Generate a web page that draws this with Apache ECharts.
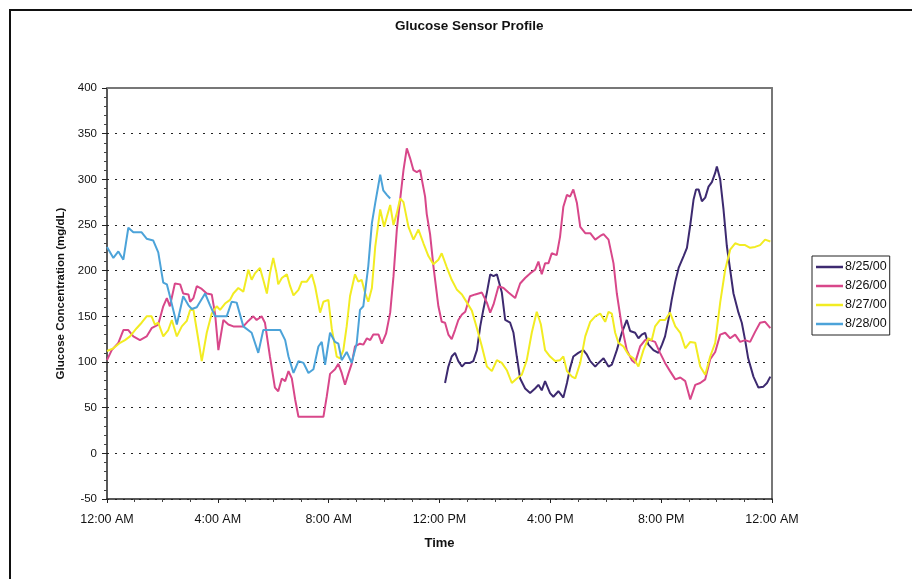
<!DOCTYPE html>
<html>
<head>
<meta charset="utf-8">
<script src="https://cdn.jsdelivr.net/npm/echarts@6/dist/echarts.min.js"></script>
<style>
html,body{margin:0;padding:0;background:#fff;}
#c{width:912px;height:579px;}
</style>
</head>
<body>
<div id="c"></div>
<script>
var xTickLabels = ['12:00 AM','4:00 AM','8:00 AM','12:00 PM','4:00 PM','8:00 PM','12:00 AM'];
var seriesNames = ['8/25/00','8/26/00','8/27/00','8/28/00'];

// [hour of day, glucose mg/dL]
var d0825 = [[12.20,77],[12.32,95],[12.44,106],[12.56,110],[12.68,101],[12.81,95],[12.93,99],[13.10,99],[13.22,101],[13.35,113],[13.47,139],[13.58,157],[13.71,176],[13.83,196],[13.95,194],[14.07,196],[14.25,176],[14.37,146],[14.55,143],[14.67,132],[14.79,106],[14.91,82],[15.09,71],[15.27,66],[15.45,71],[15.57,75],[15.69,69],[15.81,79],[15.99,66],[16.11,62],[16.29,68],[16.47,61],[16.60,77],[16.71,93],[16.83,106],[17.01,110],[17.19,113],[17.32,108],[17.44,101],[17.62,95],[17.74,99],[17.92,104],[18.10,95],[18.22,97],[18.40,113],[18.58,132],[18.76,146],[18.88,134],[19.06,132],[19.18,126],[19.30,130],[19.42,132],[19.54,119],[19.72,113],[19.90,110],[20.03,119],[20.14,128],[20.26,146],[20.38,168],[20.51,188],[20.63,203],[20.81,216],[20.93,225],[21.05,250],[21.17,278],[21.26,289],[21.35,289],[21.47,276],[21.59,280],[21.71,292],[21.83,297],[21.95,307],[22.01,314],[22.13,300],[22.25,267],[22.37,227],[22.49,201],[22.61,175],[22.79,154],[22.91,143],[23.03,124],[23.14,104],[23.33,84],[23.51,72],[23.69,73],[23.82,77],[23.94,84]];

var d0826 = [[0,102],[0.17,113],[0.41,121],[0.59,135],[0.77,135],[0.95,128],[1.19,124],[1.43,128],[1.61,137],[1.85,141],[2.03,161],[2.16,170],[2.27,161],[2.45,186],[2.64,185],[2.75,175],[2.94,174],[3.0,166],[3.12,170],[3.24,183],[3.42,180],[3.60,175],[3.78,174],[3.90,153],[4.02,113],[4.20,146],[4.38,141],[4.56,139],[4.92,139],[5.10,145],[5.28,150],[5.40,146],[5.58,150],[5.70,143],[5.88,106],[6.06,72],[6.18,68],[6.31,82],[6.43,79],[6.55,90],[6.67,82],[6.79,59],[6.91,40],[7.81,40],[7.93,62],[8.05,87],[8.23,92],[8.35,98],[8.47,88],[8.59,75],[8.71,87],[8.83,98],[8.95,117],[9.13,120],[9.25,119],[9.38,126],[9.50,124],[9.61,130],[9.80,130],[9.92,120],[10.07,131],[10.22,154],[10.34,194],[10.46,245],[10.58,278],[10.70,310],[10.82,334],[10.94,323],[11.06,310],[11.18,308],[11.30,310],[11.48,281],[11.54,262],[11.66,240],[11.78,205],[11.96,161],[12.08,144],[12.20,143],[12.32,130],[12.44,125],[12.56,135],[12.68,146],[12.81,152],[12.93,155],[13.10,172],[13.29,174],[13.53,176],[13.71,165],[13.83,154],[13.95,163],[14.13,183],[14.31,181],[14.49,176],[14.73,170],[14.91,186],[15.09,192],[15.27,197],[15.45,201],[15.57,210],[15.69,196],[15.81,208],[15.93,208],[16.05,219],[16.23,217],[16.35,237],[16.47,270],[16.60,283],[16.71,281],[16.83,289],[16.96,274],[17.08,248],[17.26,241],[17.44,241],[17.62,234],[17.68,234],[17.80,238],[17.92,240],[18.10,234],[18.28,208],[18.40,175],[18.58,139],[18.76,113],[18.94,102],[19.06,99],[19.24,117],[19.42,124],[19.60,124],[19.78,122],[19.96,110],[20.14,99],[20.32,90],[20.51,81],[20.69,83],[20.87,79],[21.05,59],[21.23,75],[21.41,77],[21.59,81],[21.77,103],[21.95,111],[22.13,130],[22.31,132],[22.49,126],[22.67,130],[22.85,122],[23.03,124],[23.21,122],[23.39,133],[23.57,143],[23.75,144],[23.94,137]];

var d0827 = [[0,112],[0.23,115],[0.47,121],[0.65,124],[0.83,128],[1.07,137],[1.25,143],[1.43,150],[1.61,150],[1.73,141],[1.85,143],[2.03,128],[2.21,135],[2.34,146],[2.52,128],[2.70,139],[2.88,145],[3.0,157],[3.12,157],[3.24,135],[3.42,101],[3.60,132],[3.78,153],[3.96,161],[4.08,157],[4.26,164],[4.44,168],[4.56,175],[4.74,181],[4.92,177],[5.10,201],[5.22,190],[5.34,197],[5.52,203],[5.64,190],[5.77,175],[5.88,197],[6.00,214],[6.12,197],[6.18,185],[6.31,192],[6.49,196],[6.61,183],[6.73,173],[6.91,179],[7.03,188],[7.21,188],[7.39,196],[7.51,183],[7.69,154],[7.81,166],[7.99,168],[8.11,137],[8.29,106],[8.41,104],[8.53,113],[8.65,139],[8.77,172],[8.95,196],[9.07,188],[9.19,190],[9.31,176],[9.43,166],[9.56,181],[9.68,226],[9.86,267],[10.0,248],[10.10,259],[10.22,272],[10.34,250],[10.46,263],[10.58,279],[10.70,275],[10.88,248],[11.06,234],[11.24,245],[11.42,230],[11.60,216],[11.78,207],[11.96,212],[12.08,219],[12.26,204],[12.44,190],[12.63,179],[12.81,174],[12.99,165],[13.17,156],[13.35,137],[13.53,117],[13.71,95],[13.89,90],[14.07,102],[14.25,99],[14.43,91],[14.61,77],[14.79,82],[14.97,86],[15.15,102],[15.33,132],[15.51,155],[15.66,141],[15.81,113],[15.99,106],[16.17,101],[16.35,102],[16.47,106],[16.60,90],[16.78,84],[16.90,82],[17.08,99],[17.26,128],[17.44,144],[17.62,150],[17.80,153],[17.98,144],[18.10,155],[18.22,153],[18.34,132],[18.46,121],[18.64,117],[18.82,108],[19.0,104],[19.18,95],[19.36,113],[19.54,126],[19.66,124],[19.78,139],[19.96,146],[20.14,146],[20.32,154],[20.51,139],[20.69,132],[20.87,115],[21.05,122],[21.23,121],[21.41,95],[21.59,86],[21.77,106],[21.95,121],[22.13,165],[22.31,201],[22.49,223],[22.67,230],[22.85,228],[23.03,228],[23.21,225],[23.39,226],[23.57,228],[23.75,234],[23.94,232]];

var d0828 = [[0,226],[0.23,214],[0.41,221],[0.59,212],[0.77,247],[0.95,242],[1.25,242],[1.43,235],[1.67,233],[1.85,220],[2.03,187],[2.16,185],[2.27,172],[2.52,141],[2.75,172],[2.94,162],[3.06,158],[3.24,160],[3.54,175],[3.72,162],[3.90,150],[4.32,150],[4.50,166],[4.68,165],[4.92,139],[5.22,132],[5.46,110],[5.64,135],[5.70,135],[6.25,135],[6.43,124],[6.55,106],[6.73,88],[6.91,101],[7.09,99],[7.27,88],[7.45,92],[7.63,117],[7.75,122],[7.87,97],[8.05,132],[8.23,122],[8.35,120],[8.47,102],[8.65,111],[8.83,99],[9.01,120],[9.13,157],[9.25,161],[9.43,205],[9.56,252],[9.68,274],[9.86,305],[9.97,288],[10.10,283],[10.22,279]];

var colors = ['#3d2a70','#d8478a','#f2ec22','#4ca3d9'];
var allData = [d0825, d0826, d0827, d0828];

var FONT = '"Liberation Sans", Arial, sans-serif';
var chart = echarts.init(document.getElementById('c'), null, {renderer:'canvas'});

var series = seriesNames.map(function(n,i){
  return {
    name:n, type:'line', data:allData[i], symbol:'none', smooth:false,
    lineStyle:{color:colors[i], width:2}, itemStyle:{color:colors[i]},
    xAxisIndex:0, yAxisIndex:0
  };
});

chart.setOption({
  animation:false,
  backgroundColor:'#fff',
  title:{
    text:'Glucose Sensor Profile', left:390, top:14,
    textStyle:{fontFamily:FONT, fontSize:13.5, fontWeight:'bold', color:'#111'}
  },
  graphic:[{
    type:'rect', shape:{x:10, y:10, width:1000, height:1000},
    style:{fill:'none', stroke:'#111', lineWidth:2}, silent:true
  }],
  legend:{
    orient:'vertical', left:812, top:256,
    padding:[4,3,4,4], itemGap:5, itemWidth:27, itemHeight:2.5, icon:'rect',
    borderColor:'#222', borderWidth:1,
    textStyle:{fontFamily:FONT, fontSize:12.5, color:'#111', padding:[0,0,0,-3], lineHeight:14},
    data:seriesNames
  },
  grid:{left:107, right:140, top:88, bottom:80, containLabel:false},
  xAxis:[{
    type:'value', min:0, max:24, interval:4,
    name:'Time', nameLocation:'middle', nameGap:38,
    nameTextStyle:{fontFamily:FONT, fontSize:13, fontWeight:'bold', color:'#111'},
    axisLine:{show:true, onZero:false, lineStyle:{color:'#222', width:1.5}},
    axisTick:{show:true, length:4, lineStyle:{color:'#222'}},
    minorTick:{show:true, splitNumber:4, length:3, lineStyle:{color:'#444'}},
    splitLine:{show:false},
    axisLabel:{fontFamily:FONT, fontSize:12.5, color:'#111', margin:14,
      formatter:function(v){ return xTickLabels[Math.round(v/4)]; }}
  },{
    type:'value', min:0, max:24, position:'top',
    axisLine:{show:true, onZero:false, lineStyle:{color:'#777', width:2}},
    axisTick:{show:false}, axisLabel:{show:false}, splitLine:{show:false}
  }],
  yAxis:[{
    type:'value', min:-50, max:400, interval:50,
    name:'Glucose Concentration (mg/dL)', nameLocation:'middle', nameGap:40,
    nameTextStyle:{fontFamily:FONT, fontSize:11.5, fontWeight:'bold', color:'#111'},
    axisLine:{show:true, onZero:false, lineStyle:{color:'#222', width:1.5}},
    axisTick:{show:true, length:5, lineStyle:{color:'#222'}},
    minorTick:{show:true, splitNumber:5, length:3, lineStyle:{color:'#444'}},
    splitLine:{show:true, lineStyle:{color:'#222', type:[2,6], width:1}},
    axisLabel:{fontFamily:FONT, fontSize:11.5, color:'#111', margin:10}
  },{
    type:'value', min:-50, max:400, position:'right',
    axisLine:{show:true, onZero:false, lineStyle:{color:'#777', width:2}},
    axisTick:{show:false}, axisLabel:{show:false}, splitLine:{show:false}
  }],
  series:series
});
</script>
</body>
</html>
